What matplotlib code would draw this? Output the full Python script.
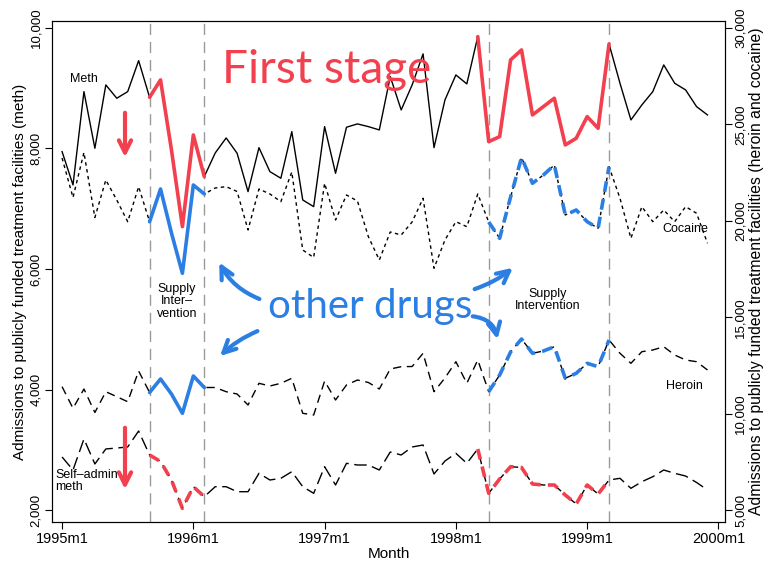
import matplotlib
matplotlib.use("Agg")
import matplotlib.pyplot as plt
import numpy as np

plt.rcParams['font.family'] = ['Liberation Sans', 'DejaVu Sans']

# months: index 0 = 1995m1 ... 59 = 1999m12
months = np.arange(60)
xtick_pos = [0, 12, 24, 36, 48, 60]
xtick_labels = ["1995m1", "1996m1", "1997m1", "1998m1", "1999m1", "2000m1"]

meth = [7948, 7395, 8944, 8004, 9055, 8834, 8944, 9458, 8850, 9138,
        7976, 6703, 8225, 7533, 7926, 8175, 7921, 7284, 8014, 7616,
        7506, 8280, 7146, 7035, 8363, 7589, 8353, 8408, 8363, 8308,
        9193, 8640, 9055, 9570, 8014, 8806, 9221, 9072, 9857, 8114,
        8197, 9470, 9636, 8557, 8695, 8834, 8059, 8170, 8529, 8336,
        9736, 9083, 8474, 8723, 8944, 9387, 9083, 8972, 8695, 8557]

self_admin_meth = [2880, 2664, 3179, 2764, 3013, 3029, 3046, 3311, 2913, 2805,
                   2498, 2028, 2387, 2221, 2387, 2387, 2304, 2304, 2609, 2498,
                   2526, 2636, 2387, 2277, 2719, 2415, 2775, 2747, 2747, 2664,
                   2963, 2913, 3046, 3079, 2598, 2813, 2941, 2775, 3013, 2277,
                   2515, 2719, 2706, 2432, 2415, 2415, 2249, 2100, 2415, 2266,
                   2498, 2526, 2360, 2470, 2553, 2664, 2609, 2564, 2457, 2332]

cocaine = [23258, 21209, 23544, 20172, 22117, 21080, 19954, 21770, 19954, 21650,
           19368, 17278, 21858, 21391, 21702, 21770, 21521, 19524, 21650, 21391,
           20992, 22532, 18486, 18097, 21946, 20042, 21339, 21028, 19176, 17968,
           19420, 19264, 19939, 21168, 17537, 19005, 19954, 19695, 21391, 19939,
           19093, 21235, 23284, 21946, 22376, 22895, 20302, 20561, 19954, 19612,
           22807, 21168, 19093, 20732, 19954, 20561, 19954, 20732, 20390, 18834]

heroin = [11396, 10275, 11276, 10057, 11136, 10877, 10617, 12210, 11095, 11795,
          11017, 10016, 11951, 11354, 11354, 11136, 11017, 10446, 11572, 11432,
          11572, 11831, 10016, 9928, 11691, 10706, 11484, 11743, 11614, 11276,
          12314, 12433, 12443, 13128, 11136, 11847, 12692, 11572, 12781, 11136,
          12002, 13195, 13870, 13128, 13247, 13470, 11831, 12091, 12609, 12433,
          13818, 13128, 12609, 13211, 13299, 13470, 13040, 12781, 12692, 12262]

interventions = [8, 13, 39, 50]

RED = '#f2404f'
BLUE = '#2b7fe3'

fig = plt.figure(figsize=(7.75, 5.64), dpi=100)
L, R, T, B = 52, 725, 21, 522
ax = fig.add_axes([L / 775, 1 - B / 564, (R - L) / 775, (B - T) / 564])
ax2 = ax.twinx()

# vertical intervention lines
for v in interventions:
    ax.axvline(v, color='#9a9a9a', lw=1.0, dashes=(8, 5), zorder=1)

ax.plot(months, meth, color='black', lw=1.0, zorder=3)
ax.plot(months, self_admin_meth, color='black', lw=1.0, dashes=(9, 4), zorder=3)
ax2.plot(months, cocaine, color='black', lw=1.0, dashes=(2.5, 2.5), zorder=3)
ax2.plot(months, heroin, color='black', lw=1.0, dashes=(6, 4), zorder=3)

# hand-drawn highlight overlays
w1 = slice(8, 14)
w2 = slice(38, 51)
w2b = slice(39, 51)
m = np.array(months)
LW = 2.6
ax.plot(m[w1], np.array(meth)[w1], color=RED, lw=LW, solid_capstyle='round', zorder=4)
ax.plot(m[w2], np.array(meth)[w2], color=RED, lw=LW, solid_capstyle='round', zorder=4)
ax.plot(m[w1], np.array(self_admin_meth)[w1], color=RED, lw=LW, dashes=(3, 2), zorder=4)
ax.plot(m[w2], np.array(self_admin_meth)[w2], color=RED, lw=LW, dashes=(3, 2), zorder=4)
ax2.plot(m[w1], np.array(cocaine)[w1], color=BLUE, lw=LW, solid_capstyle='round', zorder=4)
ax2.plot(m[w2b], np.array(cocaine)[w2b], color=BLUE, lw=LW, dashes=(3, 2), zorder=4)
ax2.plot(m[w1], np.array(heroin)[w1], color=BLUE, lw=LW, solid_capstyle='round', zorder=4)
ax2.plot(m[w2b], np.array(heroin)[w2b], color=BLUE, lw=LW, dashes=(3, 2), zorder=4)

ax.set_xlim(-0.92, 60.6)
ax.set_ylim(1801, 10116)
ax2.set_ylim(4378, 30363)

ax.set_xticks(xtick_pos)
ax.set_xticklabels(xtick_labels, fontsize=10.5)
ax.set_yticks([2000, 4000, 6000, 8000, 10000])
ax.set_yticklabels(["2,000", "4,000", "6,000", "8,000", "10,000"], rotation=90, va='center', fontsize=9.5)
ax2.set_yticks([5000, 10000, 15000, 20000, 25000, 30000])
ax2.set_yticklabels(["5,000", "10,000", "15,000", "20,000", "25,000", "30,000"], rotation=90, va='center', fontsize=9.5)
for a in (ax, ax2):
    a.tick_params(direction='out', length=5, width=0.8, pad=2)
    for s in a.spines.values():
        s.set_linewidth(0.8)

ax.set_xlabel("Month", fontsize=11, labelpad=1)
ax.set_ylabel("Admissions to publicly funded treatment facilities (meth)", fontsize=11, labelpad=2)
ax2.set_ylabel("Admissions to publicly funded treatment facilities (heroin and cocaine)", fontsize=11.3,
               rotation=90, labelpad=2)

# series labels
ax.text(1.97, 9155, "Meth", fontsize=9, ha='center', va='center')
ax2.text(59.1, 19575, "Cocaine", fontsize=9, ha='right', va='center')
ax2.text(58.6, 11448, "Heroin", fontsize=9, ha='right', va='center')
ax.text(-0.65, 2481, "Self\u2013admin\nmeth", fontsize=9, ha='left', va='center', linespacing=1.0)
ax.text(10.5, 5461, "Supply\nInter\u2013\nvention", fontsize=9, ha='center', va='center', linespacing=1.05)
ax.text(44.4, 5478, "Supply\nIntervention", fontsize=9, ha='center', va='center', linespacing=1.0)

# handwritten annotations (figure pixel coordinates, y from top)
def fp(x, y):
    return (x, 564 - y)

fig.text(222 / 775, 1 - 83 / 564, "First stage", fontsize=33, color=RED, family=['Lato', 'DejaVu Sans'],
         ha='left', va='baseline')
fig.text(268 / 775, 1 - 318 / 564, "other drugs", fontsize=29, color=BLUE, family=['Lato', 'DejaVu Sans'],
         ha='left', va='baseline')

arrow_kw = dict(xycoords='figure pixels', textcoords='figure pixels')
ax.annotate('', xy=fp(125, 160), xytext=fp(125, 110), annotation_clip=False,
            arrowprops=dict(arrowstyle='->', color=RED, lw=3, mutation_scale=22), **arrow_kw)
ax.annotate('', xy=fp(125, 492), xytext=fp(125, 425), annotation_clip=False,
            arrowprops=dict(arrowstyle='->', color=RED, lw=3, mutation_scale=22), **arrow_kw)
ax.annotate('', xy=fp(218, 260), xytext=fp(262, 300), annotation_clip=False,
            arrowprops=dict(arrowstyle='->', color=BLUE, lw=3, mutation_scale=22,
                            connectionstyle='arc3,rad=-0.2'), **arrow_kw)
ax.annotate('', xy=fp(218, 358), xytext=fp(260, 330), annotation_clip=False,
            arrowprops=dict(arrowstyle='->', color=BLUE, lw=3, mutation_scale=22,
                            connectionstyle='arc3,rad=0.1'), **arrow_kw)
ax.annotate('', xy=fp(515, 266), xytext=fp(472, 290), annotation_clip=False,
            arrowprops=dict(arrowstyle='->', color=BLUE, lw=3, mutation_scale=22,
                            connectionstyle='arc3,rad=0.1'), **arrow_kw)
ax.annotate('', xy=fp(498, 342), xytext=fp(470, 316), annotation_clip=False,
            arrowprops=dict(arrowstyle='->', color=BLUE, lw=3, mutation_scale=22,
                            connectionstyle='arc3,rad=-0.4'), **arrow_kw)

fig.savefig("out.png", dpi=100)
